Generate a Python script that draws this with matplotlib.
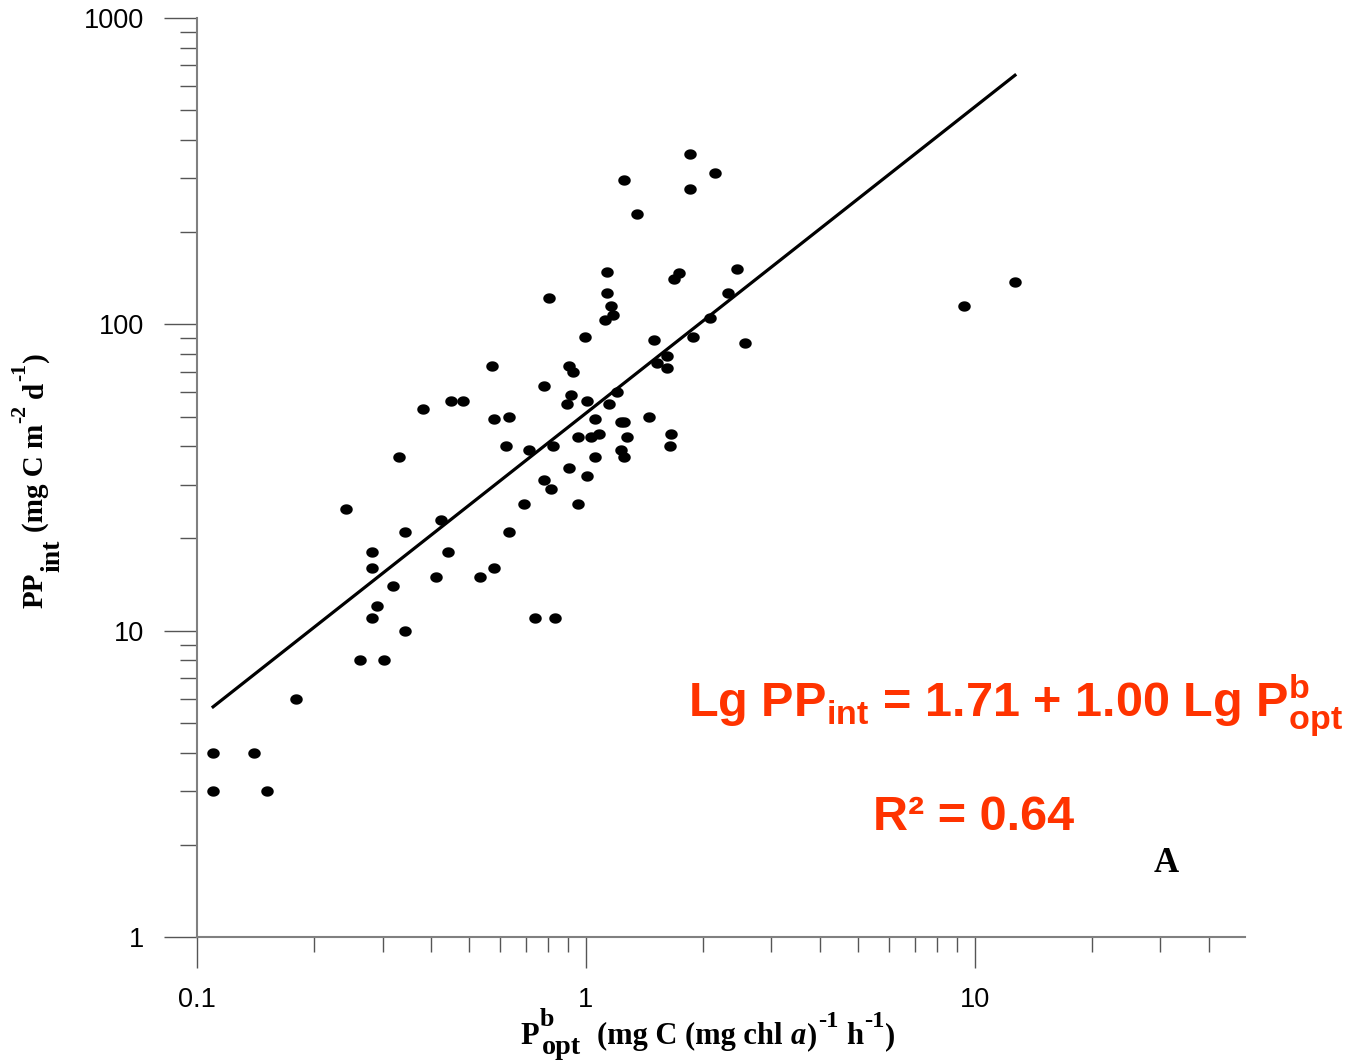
import matplotlib
matplotlib.use("Agg")
import matplotlib.pyplot as plt
import numpy as np
from matplotlib.ticker import FixedLocator, NullFormatter, FixedFormatter
from matplotlib.path import Path

# ---- data ----
p_opt = [0.110, 0.110, 0.140, 0.151, 0.180, 0.241, 0.262, 0.302, 0.281, 0.281,
         0.291, 0.281, 0.320, 0.330, 0.342, 0.342, 0.382, 0.411, 0.423, 0.441,
         0.451, 0.482, 0.533, 0.573, 0.579, 0.579, 0.622, 0.633, 0.633, 0.692,
         0.713, 0.739, 0.779, 0.803, 0.812, 0.779, 0.822, 0.832, 0.893, 0.904,
         0.926, 0.915, 0.904, 0.954, 0.954, 0.994, 1.006, 1.006, 1.030, 1.055,
         1.055, 1.080, 1.119, 1.133, 1.133, 1.146, 1.160, 1.174, 1.202, 1.231,
         1.231, 1.253, 1.253, 1.253, 1.276, 1.353, 1.454, 1.497, 1.524, 1.617,
         1.617, 1.656, 1.646, 1.686, 1.737, 1.854, 1.854, 1.887, 2.087, 2.150,
         2.323, 2.450, 2.570, 9.37, 12.68]
pp_int = [4.0, 3.0, 4.0, 3.0, 6.0, 25, 8.0, 8.0, 18, 16,
          12, 11, 14, 37, 21, 10, 53, 15, 23, 18,
          56, 56, 15, 73, 49, 16, 40, 50, 21, 26,
          39, 11, 63, 122, 29, 31, 40, 11, 55, 73,
          70, 59, 34, 26, 43, 91, 56, 32, 43, 37,
          49, 44, 103, 148, 127, 55, 115, 107, 60, 48,
          39, 296, 48, 37, 43, 229, 50, 89, 75, 79,
          72, 44, 40, 141, 147, 360, 277, 91, 105, 312,
          127, 152, 87, 115, 137]

fit_intercept = 1.71
fit_slope = 1.00

x_ticks = [0.1, 1, 10]
x_tick_labels = ['0.1', '1', '10']
y_ticks = [1, 10, 100, 1000]
y_tick_labels = ['1', '10', '100', '1000']

W, H, DPI = 1350, 1061, 100

# ---- figure ----
fig = plt.figure(figsize=(W / DPI, H / DPI), dpi=DPI)
ax = fig.add_axes([197 / W, 1 - 937 / H, (1245 - 197) / W, (937 - 18) / H])

# slightly oval dot marker
th = np.linspace(0, 2 * np.pi, 41)
oval = Path(np.column_stack([np.cos(th), 0.83 * np.sin(th)]), closed=True)

ax.plot(p_opt, pp_int, linestyle='none', marker=oval, markersize=9.0,
        color='black', markeredgewidth=0, zorder=3)

xfl = np.logspace(np.log10(min(p_opt)), np.log10(max(p_opt)), 50)
ax.plot(xfl, 10 ** fit_intercept * xfl ** fit_slope, color='black', lw=2.3, zorder=2)

ax.set_xscale('log')
ax.set_yscale('log')
ax.set_xlim(0.1, 49.5)
ax.set_ylim(1, 1000)

ax.xaxis.set_major_locator(FixedLocator(x_ticks))
ax.xaxis.set_major_formatter(FixedFormatter(x_tick_labels))
ax.yaxis.set_major_locator(FixedLocator(y_ticks))
ax.yaxis.set_major_formatter(FixedFormatter(y_tick_labels))
xminor = [m * 10.0 ** e for e in (-1, 0, 1) for m in range(2, 10) if m * 10.0 ** e < 49.5]
yminor = [m * 10.0 ** e for e in (0, 1, 2) for m in range(2, 10)]
ax.xaxis.set_minor_locator(FixedLocator(xminor))
ax.yaxis.set_minor_locator(FixedLocator(yminor))
ax.xaxis.set_minor_formatter(NullFormatter())
ax.yaxis.set_minor_formatter(NullFormatter())

for s in ('top', 'right'):
    ax.spines[s].set_visible(False)
for s in ('left', 'bottom'):
    ax.spines[s].set_color('#808080')
    ax.spines[s].set_linewidth(1.5)

ax.tick_params(axis='x', which='major', direction='out', length=22, width=1.0,
               color='#555555', pad=14, labelsize=19.5)
ax.tick_params(axis='x', which='minor', direction='out', length=11, width=1.0,
               color='#555555')
ax.tick_params(axis='y', which='major', direction='out', length=24, width=1.0,
               color='#555555', pad=14, labelsize=19.5)
ax.tick_params(axis='y', which='minor', direction='out', length=12, width=1.0,
               color='#555555')
for lab in ax.get_xticklabels() + ax.get_yticklabels():
    lab.set_fontfamily('Liberation Sans')


def draw_pieces(cx, cy, pieces, base, rotation=0, **kw):
    """Lay out text pieces with their own size / rise; (cx, cy) = centre of
    the run along its direction and main baseline, in pixels (y down)."""
    r = fig.canvas.get_renderer()
    px = base * DPI / 72.0
    widths = []
    for p in pieces:
        t = fig.text(0, 0, p['s'], fontsize=base * p.get('scale', 1.0), **kw,
                     **p.get('kw', {}))
        widths.append(t.get_window_extent(r).width)
        t.remove()
    offs = []
    cur = 0.0
    for p, w in zip(pieces, widths):
        cur += p.get('gap', 0.0) * px
        offs.append(cur)
        if p.get('advance', True):
            cur += w
    total = cur
    by = H - cy  # display coords (y up)
    for p, o in zip(pieces, offs):
        rise = p.get('rise', 0.0) * px
        if rotation == 0:
            X = cx - total / 2 + o
            Y = by + rise
        else:
            X = cx - rise
            Y = by - total / 2 + o
        fig.text(X / W, Y / H, p['s'], fontsize=base * p.get('scale', 1.0),
                 ha='left', va='baseline', rotation=rotation,
                 rotation_mode='anchor', **kw, **p.get('kw', {}))


serif = dict(fontfamily='Liberation Serif', fontweight='bold', color='black')

# x axis label
draw_pieces(708, 1044, [
    dict(s='P'),
    dict(s='b', scale=0.85, rise=0.58, gap=0.04, advance=False),
    dict(s='opt', scale=0.92, rise=-0.34, gap=0.04),
    dict(s='(mg C (mg chl', gap=0.55),
    dict(s='a', kw=dict(fontstyle='italic'), gap=0.25),
    dict(s=')', gap=0.03),
    dict(s='-1', scale=0.8, rise=0.55, gap=0.03),
    dict(s='h', gap=0.25),
    dict(s='-1', scale=0.8, rise=0.55, gap=0.04),
    dict(s=')', gap=0.03),
], 22, **serif)

# y axis label
draw_pieces(43, 480, [
    dict(s='PP'),
    dict(s='int', scale=0.95, rise=-0.55, gap=0.02),
    dict(s='(mg C m', gap=0.25),
    dict(s='-2', scale=0.75, rise=0.62, gap=0.03),
    dict(s='d', gap=0.25),
    dict(s='-1', scale=0.75, rise=0.62, gap=0.03),
    dict(s=')', gap=0.03),
], 21, rotation=90, **serif)

# equation text
red = '#FF3300'
fig.text(688 / W, 1 - 717 / H,
         r'Lg $\mathregular{PP_{int}}$ = 1.71 + 1.00 Lg $\mathregular{P^{b}_{opt}}$',
         ha='left', va='baseline', fontsize=35, fontfamily='Liberation Sans',
         fontweight='bold', color=red)
fig.text(873 / W, 1 - 830 / H, 'R² = 0.64', ha='left', va='baseline',
         fontsize=35, fontfamily='Liberation Sans', fontweight='bold', color=red)
fig.text(1166 / W, 1 - 863 / H, 'A', ha='center', va='center', fontsize=25,
         fontfamily='Liberation Serif', fontweight='bold')

fig.savefig('out.png', dpi=DPI)
